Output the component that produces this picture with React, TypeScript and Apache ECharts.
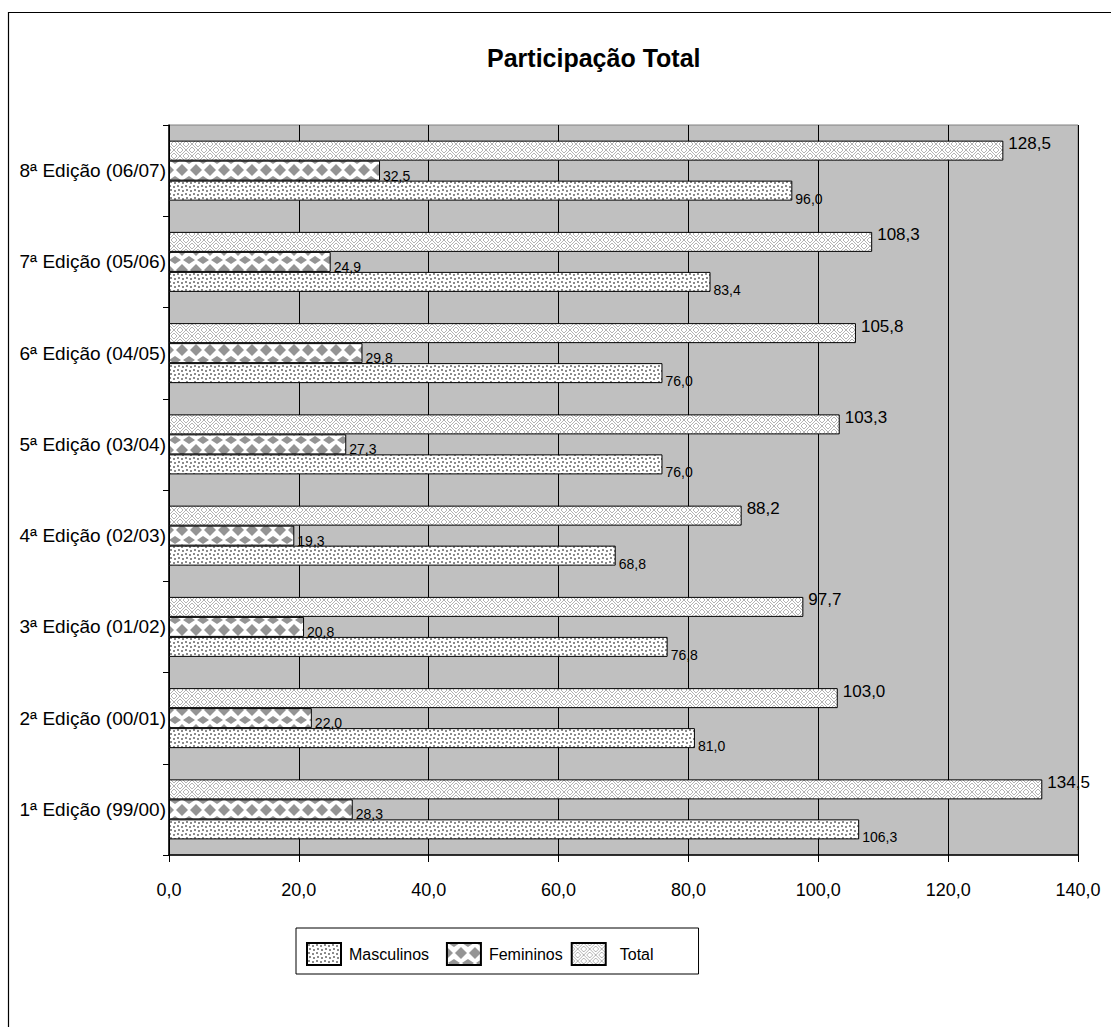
import React, { useEffect, useRef } from "react";
import * as echarts from "echarts";

const categories = [
  "1ª Edição (99/00)",
  "2ª Edição (00/01)",
  "3ª Edição (01/02)",
  "4ª Edição (02/03)",
  "5ª Edição (03/04)",
  "6ª Edição (04/05)",
  "7ª Edição (05/06)",
  "8ª Edição (06/07)",
];
const masculinos = [106.3, 81.0, 76.8, 68.8, 76.0, 76.0, 83.4, 96.0];
const femininos = [28.3, 22.0, 20.8, 19.3, 27.3, 29.8, 24.9, 32.5];
const total = [134.5, 103.0, 97.7, 88.2, 103.3, 105.8, 108.3, 128.5];
const seriesNames = ["Masculinos", "Femininos", "Total"];
const xTicks = { min: 0, max: 140, interval: 20 };
const FONT = "'Liberation Sans', Arial, sans-serif";

function makeTile(w: number, h: number, draw: (ctx: CanvasRenderingContext2D) => void) {
  const c = document.createElement("canvas");
  c.width = w;
  c.height = h;
  const ctx = c.getContext("2d")!;
  ctx.fillStyle = "#ffffff";
  ctx.fillRect(0, 0, w, h);
  draw(ctx);
  return c.toDataURL();
}

function dotsTile() {
  return makeTile(8, 8, (ctx) => {
    ctx.fillStyle = "#8c8c8c";
    [[1, 1], [5, 2], [2, 5], [6, 6]].forEach(([x, y]) => ctx.fillRect(x, y, 2, 2));
  });
}

function diamondTile() {
  return makeTile(14, 20, (ctx) => {
    ctx.fillStyle = "#949494";
    const dia = (cx: number, cy: number, a: number, b: number) => {
      ctx.beginPath();
      ctx.moveTo(cx - a, cy);
      ctx.lineTo(cx, cy - b);
      ctx.lineTo(cx + a, cy);
      ctx.lineTo(cx, cy + b);
      ctx.closePath();
      ctx.fill();
    };
    dia(0, 10, 6, 6);
    dia(14, 10, 6, 6);
    dia(7, 0, 6, 4);
    dia(7, 20, 6, 4);
  });
}

function weaveTile() {
  return makeTile(12, 12, (ctx) => {
    ctx.fillStyle = "#b4b4b4";
    for (let i = 0; i < 6; i++) {
      ctx.fillRect(i, i, 1, 1);
      ctx.fillRect((i + 3) % 6, i, 1, 1);
      ctx.fillRect(6 + (5 - i), i, 1, 1);
      ctx.fillRect(6 + ((8 - i) % 6), i, 1, 1);
      ctx.fillRect(5 - i, 6 + i, 1, 1);
      ctx.fillRect((8 - i) % 6, 6 + i, 1, 1);
      ctx.fillRect(6 + i, 6 + i, 1, 1);
      ctx.fillRect(6 + ((i + 3) % 6), 6 + i, 1, 1);
    }
  });
}

const fmt = (v: number) => v.toFixed(1).replace(".", ",");

export default function App() {
  const ref = useRef<HTMLDivElement>(null);
  useEffect(() => {
    if (!ref.current) return;
    const chart = echarts.init(ref.current, null, { renderer: "svg" });
    const dots = dotsTile();
    const dias = diamondTile();
    const weave = weaveTile();
    const pat = (img: string, w: number, h: number, y = 0) => ({
      image: img,
      repeat: "repeat",
      imageWidth: w,
      imageHeight: h,
      y,
    });
    const gridTop = 125;
    const gridH = 730;
    const band = gridH / categories.length;
    const femData = femininos.map((v, i) => {
      const center = gridTop + gridH - (i + 0.5) * band;
      const top = center - 10;
      return { value: v, itemStyle: { color: pat(dias, 14, 20, top % 20) } };
    });
    const baseBar = {
      type: "bar",
      barWidth: 20,
      barGap: "0%",
      itemStyle: { borderColor: "#000", borderWidth: 1 },
    };
    chart.setOption({
      animation: false,
      backgroundColor: "#ffffff",
      title: {
        text: "Participação Total",
        left: 482,
        top: 40,
        textStyle: { fontFamily: FONT, fontSize: 25, fontWeight: "bold", color: "#000" },
      },
      graphic: [
        {
          type: "rect",
          shape: { x: 8.5, y: 12.5, width: 1110, height: 1030 },
          style: { fill: "none", stroke: "#000", lineWidth: 1.2 },
          silent: true,
        },
      ],
      legend: {
        left: 296,
        top: 928,
        orient: "horizontal",
        padding: [14, 45, 8, 10],
        itemGap: 8,
        itemWidth: 34,
        itemHeight: 22,
        borderColor: "#000",
        borderWidth: 1,
        icon: "rect",
        formatter: (name: string) => (name === "Masculinos" ? name + "  " : name),
        textStyle: { fontFamily: FONT, fontSize: 16, color: "#000" },
        data: [
          { name: "Masculinos", textStyle: { padding: [0, 0, 0, 3] } },
          { name: "Femininos", textStyle: { padding: [0, 0, 0, 3] } },
          { name: "Total", textStyle: { padding: [0, 0, 0, 9] } },
        ],
      },
      grid: {
        left: 169,
        right: 33,
        top: gridTop,
        height: gridH,
        show: true,
        backgroundColor: "#c0c0c0",
        borderColor: "#808080",
        borderWidth: 1,
      },
      xAxis: {
        type: "value",
        min: xTicks.min,
        max: xTicks.max,
        interval: xTicks.interval,
        axisLine: { show: true, lineStyle: { color: "#000", width: 1.5 } },
        axisTick: { show: true, length: 7, lineStyle: { color: "#000" } },
        splitLine: { show: true, lineStyle: { color: "#000", width: 1 } },
        axisLabel: {
          margin: 26,
          fontFamily: FONT,
          fontSize: 18,
          color: "#000",
          formatter: (v: number) => fmt(v),
        },
      },
      yAxis: {
        type: "category",
        data: categories,
        axisLine: { show: true, lineStyle: { color: "#000", width: 1.5 } },
        axisTick: { show: true, length: 6, inside: false, alignWithLabel: false, lineStyle: { color: "#000" } },
        axisLabel: { margin: 3, fontFamily: FONT, fontSize: 19, color: "#000" },
      },
      series: [
        {
          ...baseBar,
          name: seriesNames[2],
          data: total,
          itemStyle: { ...baseBar.itemStyle, color: pat(weave, 12, 12) },
          label: {
            show: true,
            position: "right",
            distance: 5,
            offset: [0, -7],
            fontFamily: FONT,
            fontSize: 17,
            color: "#000",
            formatter: (p: any) => fmt(p.value),
          },
        },
        {
          ...baseBar,
          name: seriesNames[1],
          data: femData,
          itemStyle: { ...baseBar.itemStyle, color: pat(dias, 14, 20) },
          label: {
            show: true,
            position: "right",
            distance: 3,
            offset: [0, 5],
            fontFamily: FONT,
            fontSize: 14,
            color: "#000",
            formatter: (p: any) => fmt(p.value),
          },
        },
        {
          ...baseBar,
          name: seriesNames[0],
          data: masculinos,
          itemStyle: { ...baseBar.itemStyle, color: pat(dots, 8, 8) },
          label: {
            show: true,
            position: "right",
            distance: 3,
            offset: [0, 8],
            fontFamily: FONT,
            fontSize: 14,
            color: "#000",
            formatter: (p: any) => fmt(p.value),
          },
        },
      ],
    });
    return () => chart.dispose();
  }, []);
  return (
    <div
      ref={ref}
      style={{ position: "absolute", left: 0, top: 0, width: 1111, height: 1027 }}
    />
  );
}
